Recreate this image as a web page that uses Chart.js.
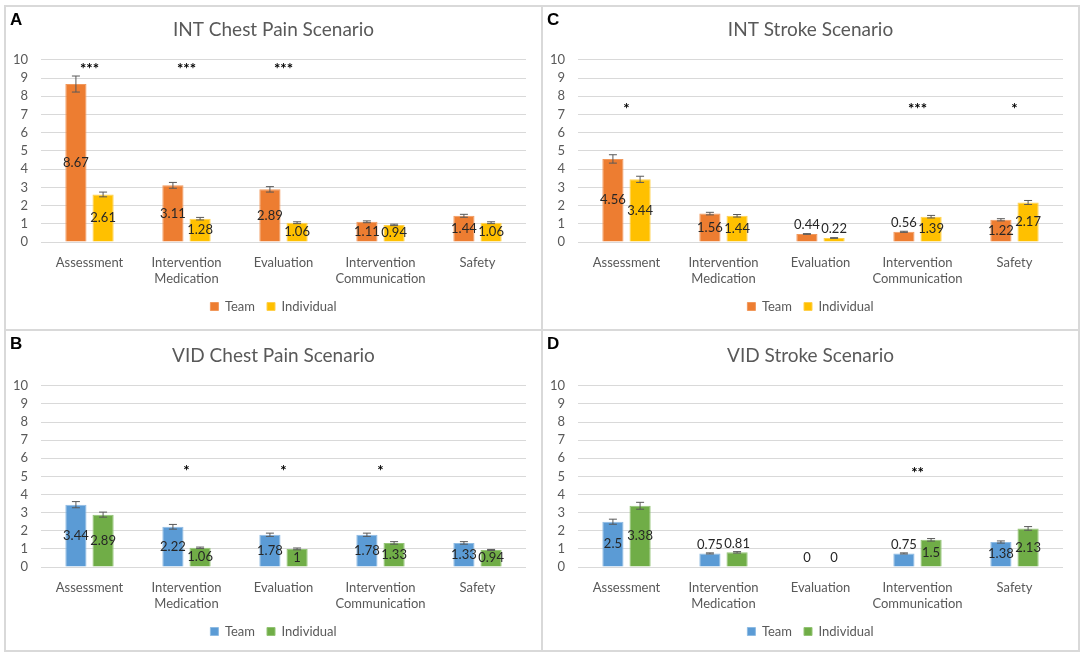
<!DOCTYPE html>
<html>
<head>
<meta charset="utf-8">
<script src="https://cdn.jsdelivr.net/npm/chart.js@4.4.1/dist/chart.umd.min.js"></script>
<style>
  html, body { margin: 0; padding: 0; background: #fff; }
  body { width: 1084px; height: 659px; position: relative; overflow: hidden; }
  .panel { position: absolute; box-sizing: border-box; border: 2px solid #d9d9d9; background: #fff; }
  .panel canvas { position: absolute; left: 0; top: 0; }
</style>
</head>
<body>
<div class="panel" id="pA" style="left:4px;top:5px;width:539px;height:326px;"><canvas id="cA"></canvas></div>
<div class="panel" id="pC" style="left:541px;top:5px;width:539px;height:326px;"><canvas id="cC"></canvas></div>
<div class="panel" id="pB" style="left:4px;top:329px;width:539px;height:323px;"><canvas id="cB"></canvas></div>
<div class="panel" id="pD" style="left:541px;top:329px;width:539px;height:323px;"><canvas id="cD"></canvas></div>
<script>
// ---- data ----
const categories = ['Assessment', ['Intervention', 'Medication'], 'Evaluation', ['Intervention', 'Communication'], 'Safety'];
const seriesNames = ['Team', 'Individual'];
const yTicks = [0, 1, 2, 3, 4, 5, 6, 7, 8, 9, 10];

// A - INT Chest Pain
const intChestTeam = [8.67, 3.11, 2.89, 1.11, 1.44];
const intChestIndiv = [2.61, 1.28, 1.06, 0.94, 1.06];
const intChestTeamErr = [0.44, 0.16, 0.15, 0.05, 0.08];
const intChestIndivErr = [0.13, 0.07, 0.05, 0.04, 0.05];
const intChestStars = ['***', '***', '***', '', ''];

// C - INT Stroke
const intStrokeTeam = [4.56, 1.56, 0.44, 0.56, 1.22];
const intStrokeIndiv = [3.44, 1.44, 0.22, 1.39, 2.17];
const intStrokeTeamErr = [0.23, 0.07, 0.02, 0.03, 0.06];
const intStrokeIndivErr = [0.17, 0.07, 0.02, 0.07, 0.11];
const intStrokeStars = ['*', '', '', '***', '*'];

// B - VID Chest Pain
const vidChestTeam = [3.44, 2.22, 1.78, 1.78, 1.33];
const vidChestIndiv = [2.89, 1.06, 1, 1.33, 0.94];
const vidChestTeamErr = [0.17, 0.13, 0.09, 0.09, 0.07];
const vidChestIndivErr = [0.14, 0.04, 0.05, 0.07, 0.03];
const vidChestStars = ['', '*', '*', '*', ''];

// D - VID Stroke
const vidStrokeTeam = [2.5, 0.75, 0, 0.75, 1.38];
const vidStrokeIndiv = [3.38, 0.81, 0, 1.5, 2.13];
const vidStrokeTeamErr = [0.14, 0.03, 0, 0.03, 0.06];
const vidStrokeIndivErr = [0.19, 0.04, 0, 0.07, 0.1];
const vidStrokeStars = ['', '', '', '**', ''];

const FONT = 'Lato, "Open Sans", sans-serif';
const GREY_TEXT = '#595959';

// error bars, value labels, significance stars and panel letter
const extrasPlugin = {
    id: 'extras',
    afterDatasetsDraw(chart) {
        const ctx = chart.ctx;
        const opts = chart.options.plugins.extras;
        const yScale = chart.scales.y;
        ctx.save();
        chart.data.datasets.forEach((ds, di) => {
            const meta = chart.getDatasetMeta(di);
            meta.data.forEach((bar, i) => {
                const v = ds.data[i];
                const e = ds.errors[i];
                if (e > 0) {
                    const yTop = yScale.getPixelForValue(v + e);
                    const yBot = yScale.getPixelForValue(v - e);
                    ctx.strokeStyle = '#595959';
                    ctx.lineWidth = 1;
                    ctx.beginPath();
                    ctx.moveTo(bar.x, yTop); ctx.lineTo(bar.x, yBot);
                    ctx.moveTo(bar.x - 4, yTop); ctx.lineTo(bar.x + 4, yTop);
                    ctx.moveTo(bar.x - 4, yBot); ctx.lineTo(bar.x + 4, yBot);
                    ctx.stroke();
                }
            });
        });
        chart.data.datasets.forEach((ds, di) => {
            const meta = chart.getDatasetMeta(di);
            meta.data.forEach((bar, i) => {
                const v = ds.data[i];
                ctx.font = '13px ' + FONT;
                ctx.fillStyle = '#262626';
                ctx.textAlign = 'center';
                ctx.textBaseline = 'middle';
                let y = (bar.y + bar.base) / 2;
                if (v < 0.9) y = bar.y - 9;
                ctx.fillText(String(v), bar.x, y);
            });
        });
        // significance stars
        const xScale = chart.scales.x;
        ctx.font = 'bold 15px ' + FONT;
        ctx.fillStyle = '#000';
        ctx.textAlign = 'center';
        ctx.textBaseline = 'middle';
        opts.stars.forEach((s, i) => {
            if (!s) return;
            ctx.fillText(s, xScale.getPixelForValue(i), yScale.getPixelForValue(opts.starLevel) + 4);
        });
        // panel letter
        ctx.font = 'bold 17px "Liberation Sans", Arial, sans-serif';
        ctx.textAlign = 'left';
        ctx.textBaseline = 'alphabetic';
        ctx.fillText(opts.letter, 4, 18);
        ctx.restore();
    }
};

function makeChart(canvasId, title, letter, team, indiv, teamErr, indivErr, stars, starLevel, colors, padTop, padBottom) {
    const cv = document.getElementById(canvasId);
    const box = cv.parentElement;
    cv.width = box.clientWidth;
    cv.height = box.clientHeight;
    cv.style.width = box.clientWidth + 'px';
    cv.style.height = box.clientHeight + 'px';
    return new Chart(cv, {
        type: 'bar',
        data: {
            labels: categories,
            datasets: [
                { label: seriesNames[0], data: team, errors: teamErr, backgroundColor: colors[0], borderColor: colors[2], borderWidth: 1 },
                { label: seriesNames[1], data: indiv, errors: indivErr, backgroundColor: colors[1], borderColor: colors[3], borderWidth: 1 }
            ]
        },
        options: {
            responsive: false,
            animation: false,
            devicePixelRatio: 1,
            categoryPercentage: 0.56,
            barPercentage: 0.78,
            layout: { padding: { left: 0, right: 0, top: padTop, bottom: padBottom } },
            scales: {
                x: {
                    grid: { display: false, drawTicks: false },
                    border: { display: false },
                    afterFit: (scale) => { scale.height -= 12; },
                    ticks: { color: GREY_TEXT, font: { family: FONT, size: 13, lineHeight: 1.23 }, padding: 13, maxRotation: 0, autoSkip: false }
                },
                y: {
                    min: 0, max: 10,
                    afterBuildTicks: (scale) => { scale.ticks = yTicks.map(v => ({ value: v })); },
                    afterFit: (scale) => { scale.width = 35; },
                    grid: { color: '#d9d9d9', lineWidth: 1, drawTicks: false },
                    border: { display: false },
                    ticks: { color: GREY_TEXT, font: { family: FONT, size: 13 }, padding: 13, autoSkip: false }
                },
                // empty right-hand axis that only keeps a margin on the right
                yRight: {
                    position: 'right',
                    afterFit: (scale) => { scale.width = 15; },
                    grid: { display: false, drawTicks: false },
                    border: { display: false },
                    ticks: { display: false }
                }
            },
            plugins: {
                title: {
                    display: true, text: title, color: GREY_TEXT,
                    font: { family: FONT, size: 19, weight: 'normal' },
                    padding: { top: 11, bottom: 19 }
                },
                legend: {
                    position: 'bottom',
                    labels: { color: GREY_TEXT, font: { family: FONT, size: 13 }, boxWidth: 8, boxHeight: 8, padding: 12 }
                },
                tooltip: { enabled: false },
                extras: { stars: stars, starLevel: starLevel, letter: letter }
            }
        },
        plugins: [extrasPlugin]
    });
}

const intColors = ['#ED7D31', '#FFC000', '#F1985B', '#FFD04D'];
const vidColors = ['#5B9BD5', '#70AD47', '#8EBBE3', '#93C475'];

makeChart('cA', 'INT Chest Pain Scenario', 'A', intChestTeam, intChestIndiv, intChestTeamErr, intChestIndivErr, intChestStars, 9.7, intColors, 0, 6);
makeChart('cC', 'INT Stroke Scenario', 'C', intStrokeTeam, intStrokeIndiv, intStrokeTeamErr, intStrokeIndivErr, intStrokeStars, 7.5, intColors, 0, 6);
makeChart('cB', 'VID Chest Pain Scenario', 'B', vidChestTeam, vidChestIndiv, vidChestTeamErr, vidChestIndivErr, vidChestStars, 5.5, vidColors, 2, 2);
makeChart('cD', 'VID Stroke Scenario', 'D', vidStrokeTeam, vidStrokeIndiv, vidStrokeTeamErr, vidStrokeIndivErr, vidStrokeStars, 5.4, vidColors, 2, 2);
</script>
</body>
</html>
